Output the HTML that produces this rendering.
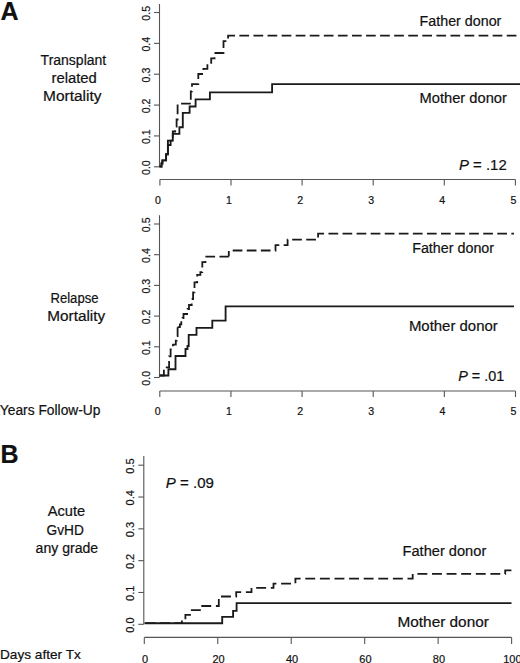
<!DOCTYPE html>
<html><head><meta charset="utf-8"><style>
html,body{margin:0;padding:0;background:#fff;width:520px;height:663px;overflow:hidden}
svg{display:block}
text{font-family:"Liberation Sans", sans-serif;fill:#111;stroke:#111;stroke-width:0.2px}
</style></head><body>
<svg width="520" height="663" viewBox="0 0 520 663">
<rect width="520" height="663" fill="#fff"/>
<text x="0.5" y="20.2" font-size="25" text-anchor="start" font-weight="bold" font-style="normal">A</text>
<text x="0.5" y="462.5" font-size="25" text-anchor="start" font-weight="bold" font-style="normal">B</text>
<line x1="159.5" y1="4" x2="159.5" y2="166.8" stroke="#555" stroke-width="1.1"/>
<line x1="154.0" y1="166.80" x2="159.5" y2="166.80" stroke="#555" stroke-width="1.1"/>
<text x="149.6" y="167.60" font-size="10.6" text-anchor="middle" transform="rotate(-90 149.6 167.60)">0.0</text>
<line x1="154.0" y1="135.94" x2="159.5" y2="135.94" stroke="#555" stroke-width="1.1"/>
<text x="149.6" y="136.74" font-size="10.6" text-anchor="middle" transform="rotate(-90 149.6 136.74)">0.1</text>
<line x1="154.0" y1="105.08" x2="159.5" y2="105.08" stroke="#555" stroke-width="1.1"/>
<text x="149.6" y="105.88" font-size="10.6" text-anchor="middle" transform="rotate(-90 149.6 105.88)">0.2</text>
<line x1="154.0" y1="74.22" x2="159.5" y2="74.22" stroke="#555" stroke-width="1.1"/>
<text x="149.6" y="75.02" font-size="10.6" text-anchor="middle" transform="rotate(-90 149.6 75.02)">0.3</text>
<line x1="154.0" y1="43.36" x2="159.5" y2="43.36" stroke="#555" stroke-width="1.1"/>
<text x="149.6" y="44.16" font-size="10.6" text-anchor="middle" transform="rotate(-90 149.6 44.16)">0.4</text>
<line x1="154.0" y1="12.50" x2="159.5" y2="12.50" stroke="#555" stroke-width="1.1"/>
<text x="149.6" y="13.30" font-size="10.6" text-anchor="middle" transform="rotate(-90 149.6 13.30)">0.5</text>
<line x1="159.9" y1="179.5" x2="515.4" y2="179.5" stroke="#555" stroke-width="1.1"/>
<line x1="159.90" y1="179.5" x2="159.90" y2="185.5" stroke="#555" stroke-width="1.1"/>
<text x="157.90" y="204" font-size="10.6" text-anchor="middle">0</text>
<line x1="231.00" y1="179.5" x2="231.00" y2="185.5" stroke="#555" stroke-width="1.1"/>
<text x="229.00" y="204" font-size="10.6" text-anchor="middle">1</text>
<line x1="302.10" y1="179.5" x2="302.10" y2="185.5" stroke="#555" stroke-width="1.1"/>
<text x="300.10" y="204" font-size="10.6" text-anchor="middle">2</text>
<line x1="373.20" y1="179.5" x2="373.20" y2="185.5" stroke="#555" stroke-width="1.1"/>
<text x="371.20" y="204" font-size="10.6" text-anchor="middle">3</text>
<line x1="444.30" y1="179.5" x2="444.30" y2="185.5" stroke="#555" stroke-width="1.1"/>
<text x="442.30" y="204" font-size="10.6" text-anchor="middle">4</text>
<line x1="515.40" y1="179.5" x2="515.40" y2="185.5" stroke="#555" stroke-width="1.1"/>
<text x="513.40" y="204" font-size="10.6" text-anchor="middle">5</text>
<line x1="159.5" y1="215.2" x2="159.5" y2="377.5" stroke="#555" stroke-width="1.1"/>
<line x1="154.0" y1="377.50" x2="159.5" y2="377.50" stroke="#555" stroke-width="1.1"/>
<text x="149.6" y="378.30" font-size="10.6" text-anchor="middle" transform="rotate(-90 149.6 378.30)">0.0</text>
<line x1="154.0" y1="346.80" x2="159.5" y2="346.80" stroke="#555" stroke-width="1.1"/>
<text x="149.6" y="347.60" font-size="10.6" text-anchor="middle" transform="rotate(-90 149.6 347.60)">0.1</text>
<line x1="154.0" y1="316.10" x2="159.5" y2="316.10" stroke="#555" stroke-width="1.1"/>
<text x="149.6" y="316.90" font-size="10.6" text-anchor="middle" transform="rotate(-90 149.6 316.90)">0.2</text>
<line x1="154.0" y1="285.40" x2="159.5" y2="285.40" stroke="#555" stroke-width="1.1"/>
<text x="149.6" y="286.20" font-size="10.6" text-anchor="middle" transform="rotate(-90 149.6 286.20)">0.3</text>
<line x1="154.0" y1="254.70" x2="159.5" y2="254.70" stroke="#555" stroke-width="1.1"/>
<text x="149.6" y="255.50" font-size="10.6" text-anchor="middle" transform="rotate(-90 149.6 255.50)">0.4</text>
<line x1="154.0" y1="224.00" x2="159.5" y2="224.00" stroke="#555" stroke-width="1.1"/>
<text x="149.6" y="224.80" font-size="10.6" text-anchor="middle" transform="rotate(-90 149.6 224.80)">0.5</text>
<line x1="159.8" y1="391" x2="515.5" y2="391" stroke="#555" stroke-width="1.1"/>
<line x1="159.80" y1="391" x2="159.80" y2="397" stroke="#555" stroke-width="1.1"/>
<text x="157.80" y="415.3" font-size="10.6" text-anchor="middle">0</text>
<line x1="230.94" y1="391" x2="230.94" y2="397" stroke="#555" stroke-width="1.1"/>
<text x="228.94" y="415.3" font-size="10.6" text-anchor="middle">1</text>
<line x1="302.08" y1="391" x2="302.08" y2="397" stroke="#555" stroke-width="1.1"/>
<text x="300.08" y="415.3" font-size="10.6" text-anchor="middle">2</text>
<line x1="373.22" y1="391" x2="373.22" y2="397" stroke="#555" stroke-width="1.1"/>
<text x="371.22" y="415.3" font-size="10.6" text-anchor="middle">3</text>
<line x1="444.36" y1="391" x2="444.36" y2="397" stroke="#555" stroke-width="1.1"/>
<text x="442.36" y="415.3" font-size="10.6" text-anchor="middle">4</text>
<line x1="515.50" y1="391" x2="515.50" y2="397" stroke="#555" stroke-width="1.1"/>
<text x="513.50" y="415.3" font-size="10.6" text-anchor="middle">5</text>
<line x1="143.8" y1="456" x2="143.8" y2="624.3" stroke="#555" stroke-width="1.1"/>
<line x1="138.3" y1="624.30" x2="143.8" y2="624.30" stroke="#555" stroke-width="1.1"/>
<text x="134.0" y="625.10" font-size="11" text-anchor="middle" transform="rotate(-90 134.0 625.10)">0.0</text>
<line x1="138.3" y1="592.48" x2="143.8" y2="592.48" stroke="#555" stroke-width="1.1"/>
<text x="134.0" y="593.28" font-size="11" text-anchor="middle" transform="rotate(-90 134.0 593.28)">0.1</text>
<line x1="138.3" y1="560.66" x2="143.8" y2="560.66" stroke="#555" stroke-width="1.1"/>
<text x="134.0" y="561.46" font-size="11" text-anchor="middle" transform="rotate(-90 134.0 561.46)">0.2</text>
<line x1="138.3" y1="528.84" x2="143.8" y2="528.84" stroke="#555" stroke-width="1.1"/>
<text x="134.0" y="529.64" font-size="11" text-anchor="middle" transform="rotate(-90 134.0 529.64)">0.3</text>
<line x1="138.3" y1="497.02" x2="143.8" y2="497.02" stroke="#555" stroke-width="1.1"/>
<text x="134.0" y="497.82" font-size="11" text-anchor="middle" transform="rotate(-90 134.0 497.82)">0.4</text>
<line x1="138.3" y1="465.20" x2="143.8" y2="465.20" stroke="#555" stroke-width="1.1"/>
<text x="134.0" y="466.00" font-size="11" text-anchor="middle" transform="rotate(-90 134.0 466.00)">0.5</text>
<line x1="144.3" y1="637.4" x2="511.6" y2="637.4" stroke="#555" stroke-width="1.1"/>
<line x1="144.30" y1="637.4" x2="144.30" y2="643.9" stroke="#555" stroke-width="1.1"/>
<text x="145.10" y="663" font-size="11" text-anchor="middle">0</text>
<line x1="217.76" y1="637.4" x2="217.76" y2="643.9" stroke="#555" stroke-width="1.1"/>
<text x="218.56" y="663" font-size="11" text-anchor="middle">20</text>
<line x1="291.22" y1="637.4" x2="291.22" y2="643.9" stroke="#555" stroke-width="1.1"/>
<text x="292.02" y="663" font-size="11" text-anchor="middle">40</text>
<line x1="364.68" y1="637.4" x2="364.68" y2="643.9" stroke="#555" stroke-width="1.1"/>
<text x="365.48" y="663" font-size="11" text-anchor="middle">60</text>
<line x1="438.14" y1="637.4" x2="438.14" y2="643.9" stroke="#555" stroke-width="1.1"/>
<text x="438.94" y="663" font-size="11" text-anchor="middle">80</text>
<line x1="511.60" y1="637.4" x2="511.60" y2="643.9" stroke="#555" stroke-width="1.1"/>
<text x="512.40" y="663" font-size="11" text-anchor="middle">100</text>
<text x="40.6" y="64.7" font-size="14" text-anchor="start" font-weight="normal" font-style="normal" textLength="65.62" lengthAdjust="spacingAndGlyphs">Transplant</text>
<text x="51.53" y="82.7" font-size="14" text-anchor="start" font-weight="normal" font-style="normal" textLength="45.32" lengthAdjust="spacingAndGlyphs">related</text>
<text x="43.05" y="101.2" font-size="14" text-anchor="start" font-weight="normal" font-style="normal" textLength="58.4" lengthAdjust="spacingAndGlyphs">Mortality</text>
<text x="50.45" y="302.8" font-size="14" text-anchor="start" font-weight="normal" font-style="normal" textLength="48.09" lengthAdjust="spacingAndGlyphs">Relapse</text>
<text x="47.32" y="321.2" font-size="14" text-anchor="start" font-weight="normal" font-style="normal" textLength="57.89" lengthAdjust="spacingAndGlyphs">Mortality</text>
<text x="47.77" y="516.0" font-size="14" text-anchor="start" font-weight="normal" font-style="normal" textLength="37.45" lengthAdjust="spacingAndGlyphs">Acute</text>
<text x="46.62" y="535.1" font-size="14" text-anchor="start" font-weight="normal" font-style="normal" textLength="37.3" lengthAdjust="spacingAndGlyphs">GvHD</text>
<text x="35.6" y="553.1" font-size="14" text-anchor="start" font-weight="normal" font-style="normal" textLength="62.58" lengthAdjust="spacingAndGlyphs">any grade</text>
<text x="-0.19" y="415.4" font-size="14" text-anchor="start" font-weight="normal" font-style="normal" textLength="100.69" lengthAdjust="spacingAndGlyphs">Years Follow-Up</text>
<text x="-0.05" y="658.5" font-size="13" text-anchor="start" font-weight="normal" font-style="normal" textLength="80.92" lengthAdjust="spacingAndGlyphs">Days after Tx</text>
<text x="419.59" y="25.5" font-size="14" text-anchor="start" font-weight="normal" font-style="normal" textLength="81.8" lengthAdjust="spacingAndGlyphs">Father donor</text>
<text x="419.57" y="102.7" font-size="14" text-anchor="start" font-weight="normal" font-style="normal" textLength="87.29" lengthAdjust="spacingAndGlyphs">Mother donor</text>
<text x="412.18" y="253.4" font-size="14" text-anchor="start" font-weight="normal" font-style="normal" textLength="81.9" lengthAdjust="spacingAndGlyphs">Father donor</text>
<text x="408.9" y="331.3" font-size="14" text-anchor="start" font-weight="normal" font-style="normal" textLength="88.87" lengthAdjust="spacingAndGlyphs">Mother donor</text>
<text x="402.55" y="556.3" font-size="14" text-anchor="start" font-weight="normal" font-style="normal" textLength="83.72" lengthAdjust="spacingAndGlyphs">Father donor</text>
<text x="397.48" y="626.8" font-size="14" text-anchor="start" font-weight="normal" font-style="normal" textLength="91.41" lengthAdjust="spacingAndGlyphs">Mother donor</text>
<text x="459.0" y="170.2" font-size="14" textLength="47.7" lengthAdjust="spacingAndGlyphs"><tspan font-style="italic">P</tspan> = .12</text>
<text x="458.2" y="381.1" font-size="14" textLength="46.0" lengthAdjust="spacingAndGlyphs"><tspan font-style="italic">P</tspan> = .01</text>
<text x="165.8" y="487.9" font-size="14" textLength="48.1" lengthAdjust="spacingAndGlyphs"><tspan font-style="italic">P</tspan> = .09</text>
<path d="M159.5,166.5 H161.5 V163.5 H162.4 V160.3 H166.1 V154.2 H167.9 V145 H170.6 V140.6 H172.8 V133.8 H179.4 V127.2 H182.8 V112.8 H189.6 V106.5 H195.6 V99.4 H209.9 V92.4 H272.1 V84.1 H520" fill="none" stroke="#1a1a1a" stroke-width="1.85" stroke-linejoin="miter" stroke-linecap="butt"/>
<path d="M159.5,166.5 H161.5 V163.5 H162.4 V160.3 H166.1 V154.2 H167.9 V140.6 H172.8" fill="none" stroke="#1a1a1a" stroke-width="1.85" stroke-linejoin="miter" stroke-linecap="butt"/>
<path d="M172.8,140.6 V131.5 H175.2 V126.5 H176.6 V119.5 H177.6 V103.6 H190.8" fill="none" stroke="#1a1a1a" stroke-width="1.8" stroke-dasharray="9.7 4.37" stroke-dashoffset="10.98" stroke-linejoin="miter" stroke-linecap="butt"/>
<path d="M190.8,103.6 V91.3 H192 V84.2 H198.3 V74 H203.4 V68.9 H207.4 V63.8 H211.2 V58.4 H214.5 V53 H223.5 V41.1 H228.1 V35.7 H517" fill="none" stroke="#1a1a1a" stroke-width="1.8" stroke-dasharray="9.7 4.37" stroke-dashoffset="10.12" stroke-linejoin="miter" stroke-linecap="butt"/>
<path d="M159.7,375.5 H168.4 V369.2 H175.5 V356 H185.5 V349 H187.5 V346 H188.7 V334.8 H196.5 V327.9 H212.3 V320.6 H225.6 V306.3 H514" fill="none" stroke="#1a1a1a" stroke-width="1.85" stroke-linejoin="miter" stroke-linecap="butt"/>
<path d="M159.7,375.5 H163.9 V367.3 H169.1 V356.4 H170.6 V349.4 H173 V344.6 H175.8 V340.7 H176.7 V336.2 H177.6 V327.1" fill="none" stroke="#1a1a1a" stroke-width="1.8" stroke-dasharray="9.7 4.37" stroke-dashoffset="13.84" stroke-linejoin="miter" stroke-linecap="butt"/>
<path d="M177.6,327.1 H179.9 V324.4 H181.3 V321.2 H182.6 V318 H183.5 V314 H187.1 V311.7 H187.6 V309 H189 V305 H191.7 V301.8 H192.6 V299 H193.1 V292.3 H194.5 V282.4 H197.2 V274.8 H200.4 V272.2 H202.3 V262.2 H205.4 V256.6 H228.8" fill="none" stroke="#1a1a1a" stroke-width="1.8" stroke-dasharray="9.7 4.37" stroke-dashoffset="0.19" stroke-linejoin="miter" stroke-linecap="butt"/>
<path d="M228.8,256.6 V250.5 H275.5 V245.2 H287.6 V239.6 H318.1 V233.7 H514" fill="none" stroke="#1a1a1a" stroke-width="1.8" stroke-dasharray="9.7 4.37" stroke-dashoffset="4.07" stroke-linejoin="miter" stroke-linecap="butt"/>
<path d="M144.5,623.2 H222.2 V616.9 H233.1 V610.8 H236.6 V603.1 H511.5" fill="none" stroke="#1a1a1a" stroke-width="1.85" stroke-linejoin="miter" stroke-linecap="butt"/>
<path d="M144.5,623.2 H181.9 V619.6 H185.4 V614.8 H190 V610.2 H201 V606 H218.8 V596.5 H236.2 V592.2 H251.5 V587.9 H273.5 V583.6 H295.4 V578.6 H412.7 V573.9 H505.2 V570.4 H511.5" fill="none" stroke="#1a1a1a" stroke-width="1.8" stroke-dasharray="9.9 4.7" stroke-dashoffset="13.60" stroke-linejoin="miter" stroke-linecap="butt"/>
</svg>
</body></html>
